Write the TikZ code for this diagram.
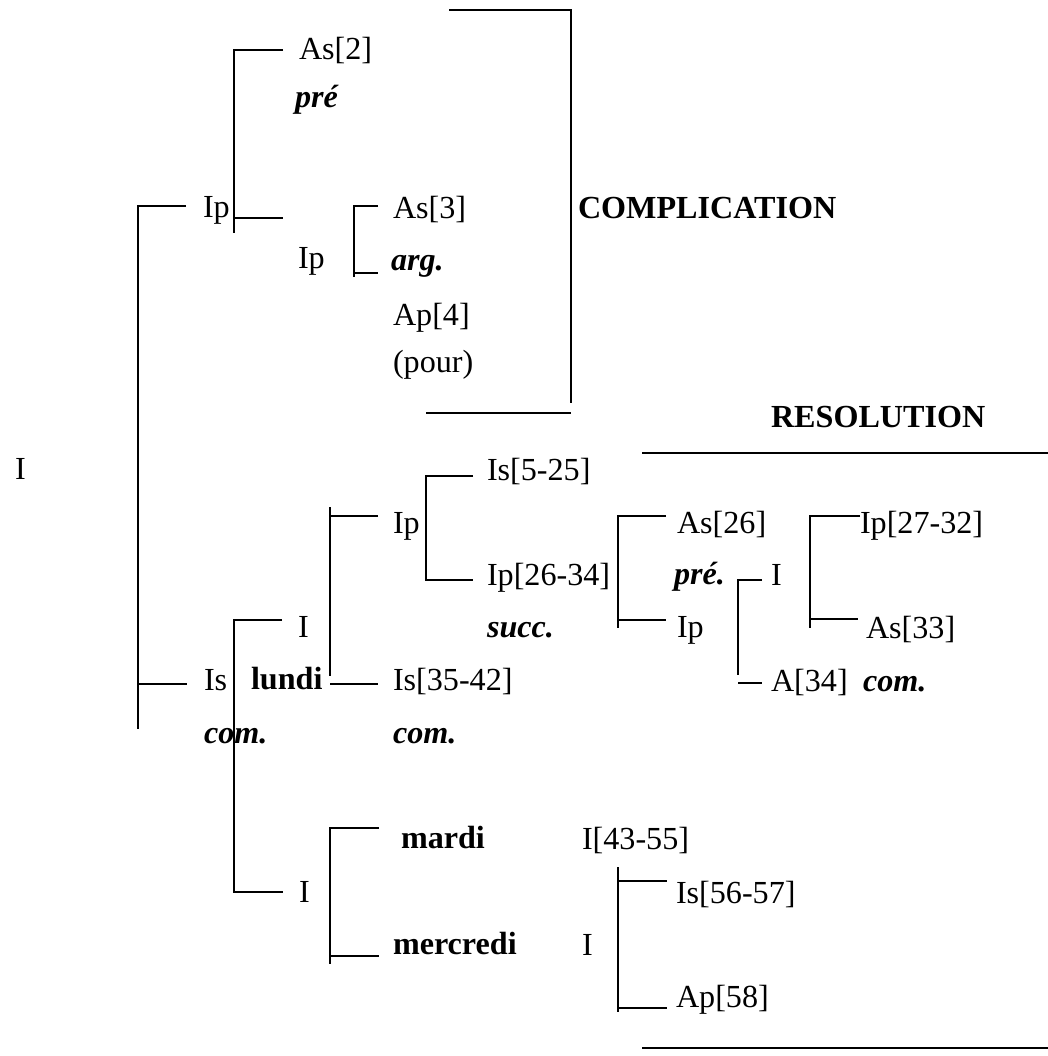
\documentclass[tikz,border=0pt]{standalone}
\usepackage{fontspec}
\setmainfont{Liberation Serif}
\begin{document}
\begin{tikzpicture}[x=0.75pt,y=-0.75pt,
  lbl/.style={anchor=base west,inner sep=0pt,outer sep=0pt,font=\fontsize{24.1}{28}\selectfont},
  bi/.style={lbl,font=\fontsize{24.1}{28}\selectfont\bfseries\itshape},
  bd/.style={lbl,font=\fontsize{24.1}{28}\selectfont\bfseries},
  ln/.style={line width=1.6pt,line cap=butt}]
\useasboundingbox (0,0) rectangle (1048,1056);
% texts
\node[lbl] (as2) at (299,60) {As[2]};
\node[bi] (pre1) at (295,108) {pré};
\node[lbl] (ip1) at (203,217) {Ip};
\node[lbl] (ip2) at (298,268) {Ip};
\node[lbl] (as3) at (393,218) {As[3]};
\node[bi] (arg) at (391,270) {arg.};
\node[lbl] (ap4) at (393,325) {Ap[4]};
\node[lbl] (pour) at (393,372) {(pour)};
\node[bd] (compl) at (578,218) {COMPLICATION};
\node[bd] (resol) at (771,427) {RESOLUTION};
\node[lbl] (root) at (15,479) {I};
\node[lbl] (is525) at (487,480) {Is[5-25]};
\node[lbl] (ip3) at (393,533) {Ip};
\node[lbl] (as26) at (677,533) {As[26]};
\node[lbl] (ip2732) at (860,533) {Ip[27-32]};
\node[bi] (pre2) at (674,584) {pré.};
\node[lbl] (i3) at (771,585) {I};
\node[lbl] (ip2634) at (487,585) {Ip[26-34]};
\node[lbl] (i1) at (298,637) {I};
\node[bi] (succ) at (487,637) {succ.};
\node[lbl] (ip4) at (677,637) {Ip};
\node[lbl] (as33) at (866,638) {As[33]};
\node[lbl] (is1) at (204,690) {Is};
\node[bd] (lundi) at (251,689) {lundi};
\node[lbl] (is3542) at (393,690) {Is[35-42]};
\node[lbl] (a34) at (771,691) {A[34]};
\node[bi] (com3) at (863,691) {com.};
\node[bi] (com1) at (204,743) {com.};
\node[bi] (com2) at (393,743) {com.};
\node[bd] (mardi) at (401,848) {mardi};
\node[lbl] (i4355) at (582,849) {I[43-55]};
\node[lbl] (i2) at (299,902) {I};
\node[lbl] (is5657) at (676,903) {Is[56-57]};
\node[bd] (mercredi) at (393,954) {mercredi};
\node[lbl] (i5) at (582,955) {I};
\node[lbl] (ap58) at (676,1007) {Ap[58]};
% COMPLICATION bracket
\draw[ln] (449,10) -- (571,10) -- (571,403);
\draw[ln] (426,413) -- (571,413);
% root bracket
\draw[ln] (186,206) -- (138,206) -- (138,729);
\draw[ln] (138,684) -- (187,684);
% Ip bracket
\draw[ln] (283,50) -- (234,50) -- (234,233);
\draw[ln] (234,218) -- (283,218);
% As[3] bracket
\draw[ln] (378,206) -- (354,206) -- (354,277);
\draw[ln] (354,273) -- (378,273);
% Is bracket
\draw[ln] (282,620) -- (234,620) -- (234,892) -- (283,892);
% lundi bracket
\draw[ln] (378,516) -- (330,516);
\draw[ln] (330,507) -- (330,676);
\draw[ln] (330,684) -- (378,684);
% Ip (393) bracket
\draw[ln] (473,476) -- (426,476) -- (426,580) -- (473,580);
% Ip[26-34] bracket
\draw[ln] (666,516) -- (618,516) -- (618,628);
\draw[ln] (618,620) -- (666,620);
% A[34] bracket
\draw[ln] (762,580) -- (738,580) -- (738,675);
\draw[ln] (738,683) -- (762,683);
% Ip[27-32] bracket
\draw[ln] (860,516) -- (810,516) -- (810,628);
\draw[ln] (810,619) -- (858,619);
% mardi bracket
\draw[ln] (379,828) -- (330,828) -- (330,964);
\draw[ln] (330,956) -- (379,956);
% Is[56-57] bracket
\draw[ln] (618,867) -- (618,1012);
\draw[ln] (618,881) -- (667,881);
\draw[ln] (618,1008) -- (667,1008);
% rules
\draw[ln] (642,453) -- (1048,453);
\draw[ln] (642,1048) -- (1048,1048);
\end{tikzpicture}
\end{document}
